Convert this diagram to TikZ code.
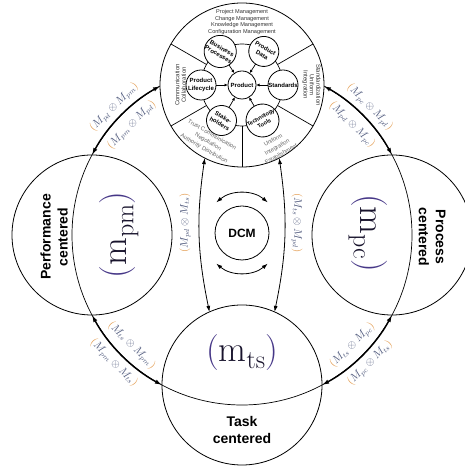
\documentclass[tikz,border=0pt]{standalone}
\usepackage{fontspec}
\newfontfamily\arial{Liberation Sans}
\usetikzlibrary{arrows.meta}
\definecolor{mtext}{RGB}{80,90,125}
\definecolor{mparen}{RGB}{225,150,70}
\definecolor{bigmcol}{RGB}{25,20,45}
\definecolor{bigparen}{RGB}{70,55,135}
\newcommand{\mlab}[2]{\textcolor{mparen}{$($}$M_{#1}\otimes M_{#2}$\textcolor{mparen}{$)$}}
\newcommand{\bigmlab}[1]{\fontsize{36}{36}\selectfont\textcolor{bigparen}{(}\textcolor{bigmcol}{m\raisebox{-7pt}{\fontsize{26}{26}\selectfont #1}}\textcolor{bigparen}{)}}
\begin{document}
\begin{tikzpicture}[x=1pt,y=1pt,
  thinl/.style={line width=0.7pt},
  circ/.style={draw, circle, inner sep=0pt, outer sep=0pt, line width=0.8pt},
  smallc/.style={circ, fill=white, minimum size=30, font=\arial\bfseries\fontsize{6}{7.2}\selectfont, align=center},
  spoke/.style={line width=0.7pt, -{Latex[length=3.5pt,width=3pt]}},
  sect/.style={font=\arial\fontsize{5.6}{6.4}\selectfont, align=center, text=black!80, inner sep=0pt},
  sectlr/.style={font=\arial\fontsize{6}{6.4}\selectfont, align=center, text=black!80, inner sep=0pt},
  sectb/.style={font=\arial\fontsize{5.8}{8}\selectfont, align=center, text=black!60, inner sep=0pt},
  link/.style={line width=1.4pt, {Latex[length=7pt,width=4.5pt]}-{Latex[length=7pt,width=4.5pt]}},
  curv/.style={line width=0.8pt, {Latex[length=6pt,width=4pt]}-{Latex[length=6pt,width=4pt]}},
  mlabel/.style={font=\fontsize{10.5}{12}\selectfont, text=mtext, inner sep=0pt},
  centered/.style={font=\arial\bfseries\fontsize{14}{17}\selectfont, align=center, inner sep=0pt}
]
\useasboundingbox (0,0) rectangle (464,468);
\coordinate (C) at (242,233);
% big circle (thin)
\draw[thinl] (C) circle[radius=170];
% outer circles
\node[circ, minimum size=160] (L) at (92,233) {};
\node[circ, minimum size=160] (R) at (392,233) {};
\node[circ, minimum size=160] (T) at (242,83) {};
% thick links on big circle
\coordinate (a1) at ([shift={(118.8:170)}]C);
\coordinate (a2) at ([shift={(208.1:170)}]C);
\coordinate (a3) at ([shift={(298.1:170)}]C);
\coordinate (a4) at ([shift={(28.1:170)}]C);
\draw[link] (a1) arc[start angle=118.8, end angle=151.9, radius=170];
\draw[link] (a2) arc[start angle=208.1, end angle=241.9, radius=170];
\draw[link] (a3) arc[start angle=298.1, end angle=331.9, radius=170];
\draw[link] (a4) arc[start angle=28.1, end angle=61.2, radius=170];
% wheel
\node[circ, fill=white, minimum size=164] (W) at (242,383) {};
\node[circ, line width=0.7pt, minimum size=82] (ring) at (242,383) {};
\foreach \a in {30,150,210,270,330} \draw[thinl] (ring.\a) -- (W.\a);
\node[smallc] (std) at ([shift={(0:41)}]W.center) {Standards};
\node[smallc, rotate=-30] (pdata) at ([shift={(57:40)}]W.center) {Product\\Data};
\node[smallc, rotate=-30] (bproc) at ([shift={(123:40)}]W.center) {Business\\Processes};
\node[smallc] (plc) at ([shift={(180:41)}]W.center) {Product\\Lifecycle};
\node[smallc, rotate=-30] (stake) at ([shift={(240:41)}]W.center) {Stake-\\holders};
\node[smallc, rotate=30, font=\arial\bfseries\fontsize{5.6}{7}\selectfont] (tech) at ([shift={(300:41)}]W.center) {Technology\\Tools};
\node[smallc, minimum size=28] (prod) at (W.center) {Product};
\foreach \n in {std,pdata,bproc,plc,stake,tech} \draw[spoke] (\n) -- (prod);
% sector texts
\node[sect] (s1) at (242,446) {Project Management\\Change Management\\Knowledge Management\\Configuration Management};
\node[sectlr, rotate=90] (s2) at (180.5,383) {Communication\\Collaboration};
\node[sectlr, rotate=-90] (s3) at (311.5,383) {Standardization\\Uniform\\Integration};
\node[sectb, rotate=-30] (s4) at (208,326) {Trust Communication\\Negotiation\\Authority Distribution};
\node[sectb, rotate=30] (s5) at (277,321) {Uniform\\Integration\\Establishment};
% central DCM
\node[circ, minimum size=54, font=\arial\bfseries\fontsize{12}{14}\selectfont] (D) at (242,235) {DCM};
\coordinate (d1) at ([shift={(50:40)}]D.center);
\coordinate (d2) at ([shift={(230:40)}]D.center);
\draw[curv] (d1) arc[start angle=50, end angle=130, radius=40];
\draw[curv] (d2) arc[start angle=230, end angle=310, radius=40];
% vertical curves wheel -- task
\draw[curv] (W.243) to[bend right=10] (T.114);
\draw[curv] (W.297) to[bend left=10] (T.66);
% M labels
\node[mlabel, rotate=45] (l1) at ([shift={(135:181)}]C) {\mlab{pd}{pm}};
\node[mlabel, rotate=45] (l2) at ([shift={(135:156)}]C) {\mlab{pm}{pd}};
\node[mlabel, rotate=-45] (l3) at ([shift={(45:181)}]C) {\mlab{pc}{pd}};
\node[mlabel, rotate=-45] (l4) at ([shift={(45:156)}]C) {\mlab{pd}{pc}};
\node[mlabel, rotate=-45] (l5) at ([shift={(225:156)}]C) {\mlab{ts}{pm}};
\node[mlabel, rotate=-45] (l6) at ([shift={(225:181)}]C) {\mlab{pm}{ts}};
\node[mlabel, rotate=45] (l7) at ([shift={(315:156)}]C) {\mlab{ts}{pc}};
\node[mlabel, rotate=45] (l8) at ([shift={(315:181)}]C) {\mlab{pc}{ts}};
\node[mlabel, rotate=90] (l9) at (185,245) {\mlab{pd}{ts}};
\node[mlabel, rotate=-90] (l10) at (297,245) {\mlab{ts}{pd}};
% big labels
\node[inner sep=0pt, rotate=90] (mpm) at (119,233) {\bigmlab{pm}};
\node[inner sep=0pt, rotate=-90] (mpc) at (368,235) {\bigmlab{pc}};
\node[inner sep=0pt] (mts) at (242,115) {\bigmlab{ts}};
% circle titles
\node[centered, rotate=90] (perf) at (54,231) {Performance\\centered};
\node[centered, rotate=-90] (proc) at (432,231) {Process\\centered};
\node[centered] (task) at (242,38) {Task\\centered};
\end{tikzpicture}
\end{document}
